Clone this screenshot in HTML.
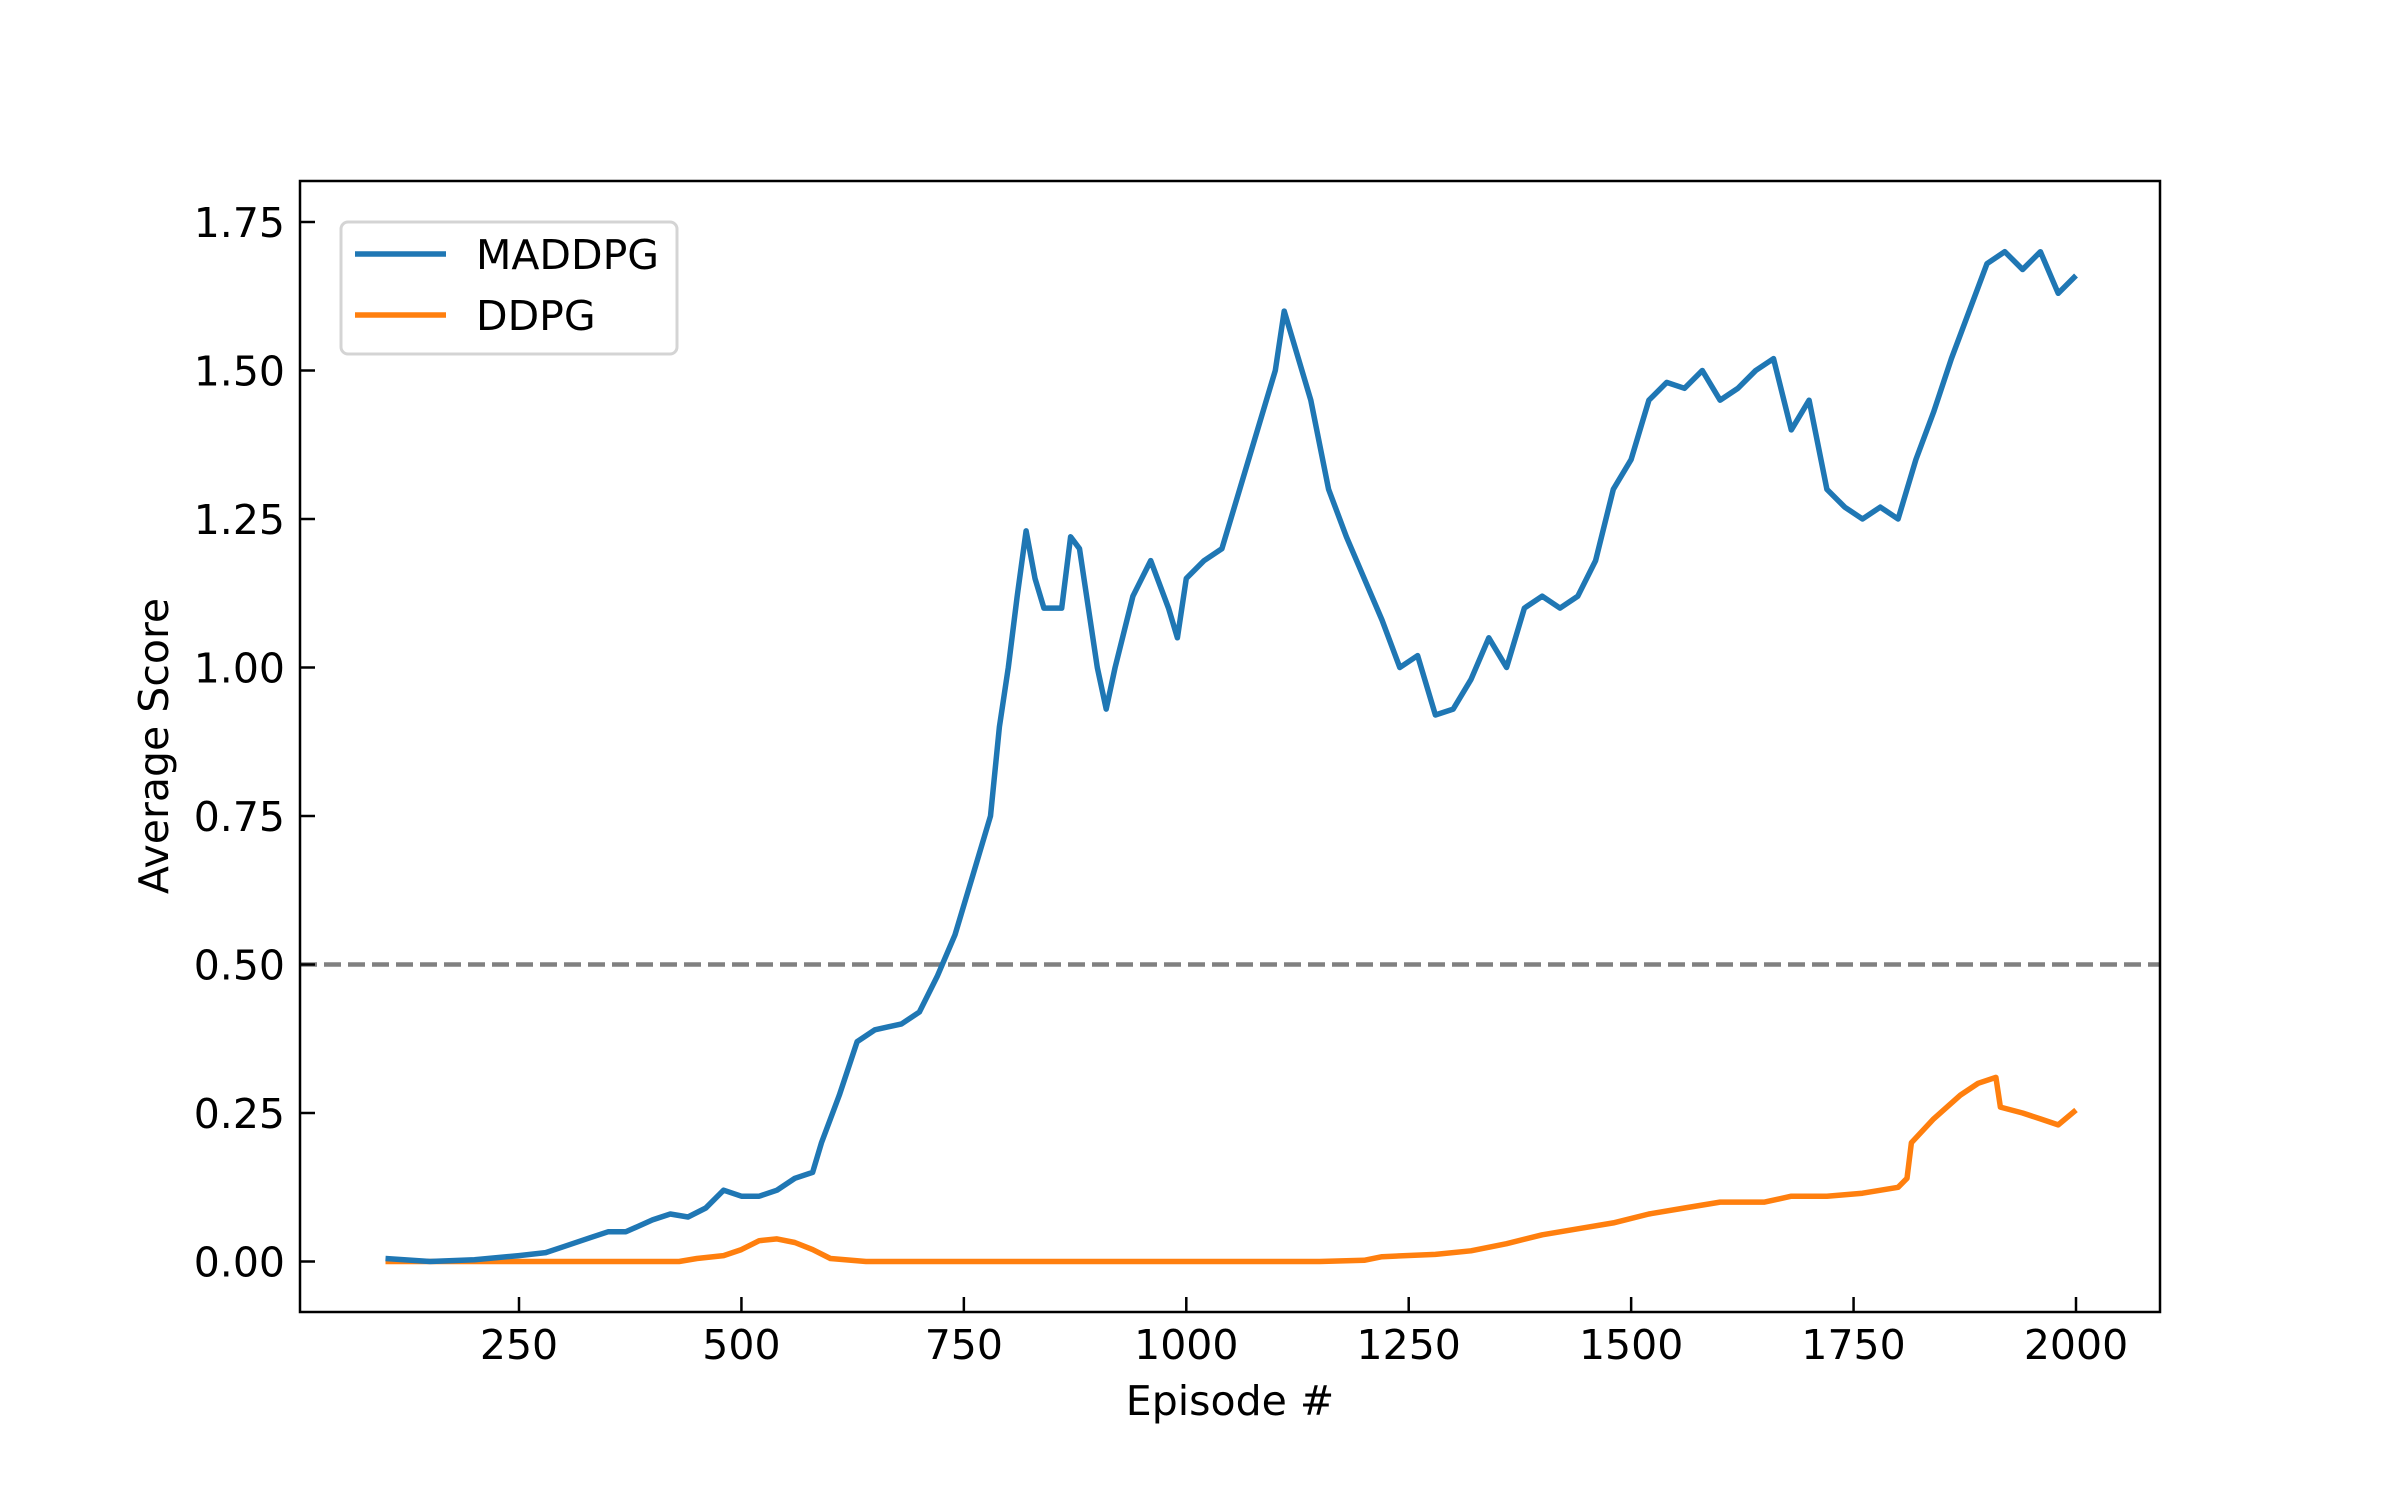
<!DOCTYPE html>
<html><head><meta charset="utf-8">
<style>
html,body{margin:0;padding:0;background:#fff;}
svg{display:block;font-family:"DejaVu Sans","Liberation Sans",sans-serif;}
</style></head>
<body>
<svg id="chart" width="2400" height="1500" viewBox="0 0 2400 1500" xmlns="http://www.w3.org/2000/svg">
<rect width="2400" height="1500" fill="#fff"/>
<g id="plot"></g>
</svg>
<script>
const maddpgEpisodes=[100,150,200,250,280,300,330,350,370,400,420,440,460,480,500,520,540,560,580,590,610,630,650,680,700,720,740,760,780,790,800,810,820,830,840,860,870,880,890,900,910,920,940,960,980,990,1000,1020,1040,1060,1080,1100,1110,1120,1140,1160,1180,1200,1220,1240,1260,1280,1300,1320,1340,1360,1380,1400,1420,1440,1460,1480,1500,1520,1540,1560,1580,1600,1620,1640,1660,1680,1700,1720,1740,1760,1780,1800,1820,1840,1860,1880,1900,1920,1940,1960,1980,2000];
const maddpgScores=[0.005,0,0.003,0.01,0.015,0.025,0.04,0.05,0.05,0.07,0.08,0.075,0.09,0.12,0.11,0.11,0.12,0.14,0.15,0.2,0.28,0.37,0.39,0.4,0.42,0.48,0.55,0.65,0.75,0.9,1.0,1.12,1.23,1.15,1.1,1.1,1.22,1.2,1.1,1.0,0.93,1.0,1.12,1.18,1.1,1.05,1.15,1.18,1.2,1.3,1.4,1.5,1.6,1.55,1.45,1.3,1.22,1.15,1.08,1.0,1.02,0.92,0.93,0.98,1.05,1.0,1.1,1.12,1.1,1.12,1.18,1.3,1.35,1.45,1.48,1.47,1.5,1.45,1.47,1.5,1.52,1.4,1.45,1.3,1.27,1.25,1.27,1.25,1.35,1.43,1.52,1.6,1.68,1.7,1.67,1.7,1.63,1.66];
const ddpgEpisodes=[100,430,450,480,500,520,540,560,580,600,640,1150,1200,1220,1280,1320,1360,1400,1440,1480,1520,1560,1600,1650,1680,1720,1760,1800,1810,1815,1840,1870,1890,1910,1915,1940,1960,1980,2000];
const ddpgScores=[0,0,0.005,0.01,0.02,0.035,0.038,0.032,0.02,0.005,0,0,0.002,0.008,0.012,0.018,0.03,0.045,0.055,0.065,0.08,0.09,0.1,0.1,0.11,0.11,0.115,0.125,0.14,0.2,0.24,0.28,0.3,0.31,0.26,0.25,0.24,0.23,0.255];
const xTicks=[250,500,750,1000,1250,1500,1750,2000];
const yTicks=[0,0.25,0.5,0.75,1.0,1.25,1.5,1.75];
const yTickLabels=["0.00","0.25","0.50","0.75","1.00","1.25","1.50","1.75"];
const threshold=0.5;

const L=300,R=2160,T=181,B=1312;
const X=v=>519+(v-250)*(2076-519)/1750;
const Y=v=>1261.5-v*(1261.5-222)/1.75;
const NS="http://www.w3.org/2000/svg";
const g=document.getElementById('plot');
function mk(tag,attrs){const e=document.createElementNS(NS,tag);for(const k in attrs)e.setAttribute(k,attrs[k]);g.appendChild(e);return e;}

const th=mk('line',{x1:L,x2:R,y1:Y(threshold),y2:Y(threshold),stroke:'#808080','stroke-width':4.5,'stroke-dasharray':'17,7'});



function series(xs,ys,color,name){
  const d=xs.map((x,i)=>(i?'L':'M')+X(x).toFixed(1)+','+Y(ys[i]).toFixed(1)).join(' ');
  const p=mk('path',{d:d,fill:'none',stroke:color,'stroke-width':5.5,'stroke-linejoin':'round'});
  
  
}
series(ddpgEpisodes,ddpgScores,'#ff7f0e','ddpg-line');
series(maddpgEpisodes,maddpgScores,'#1f77b4','maddpg-line');

const fr=mk('rect',{x:L,y:T,width:R-L,height:B-T,fill:'none',stroke:'#000','stroke-width':2.5});



xTicks.forEach(v=>{
  const t=mk('line',{x1:X(v),x2:X(v),y1:B,y2:B-15,stroke:'#000','stroke-width':2.5});
  
  
  const l=mk('text',{x:X(v),y:1359,'font-size':41,'text-anchor':'middle',fill:'#000'});
  l.textContent=v;
  
  
});
yTicks.forEach((v,i)=>{
  const t=mk('line',{x1:L,x2:L+15,y1:Y(v),y2:Y(v),stroke:'#000','stroke-width':2.5});
  
  
  const l=mk('text',{x:L-15,y:Y(v)+15,'font-size':41,'text-anchor':'end',fill:'#000'});
  l.textContent=yTickLabels[i];
  
  
});
const xl=mk('text',{x:(L+R)/2,y:1415,'font-size':41,'text-anchor':'middle',fill:'#000'});
xl.textContent='Episode #';


const yl=mk('text',{x:0,y:0,'font-size':41,'text-anchor':'middle',fill:'#000',transform:'translate(168,746) rotate(-90)'});
yl.textContent='Average Score';



const lg=mk('rect',{x:341,y:222,width:336,height:132,rx:7,fill:'#fff',stroke:'#d0d0d0','stroke-width':3,opacity:0.9});


[['MADDPG','#1f77b4',254],['DDPG','#ff7f0e',315]].forEach(([n,c,y])=>{
  const s=mk('line',{x1:355,x2:446,y1:y,y2:y,stroke:c,'stroke-width':5.5});
  
  
  const t=mk('text',{x:476,y:y+15,'font-size':41,fill:'#000'});
  t.textContent=n;
  
  
});
</script>
</body></html>
